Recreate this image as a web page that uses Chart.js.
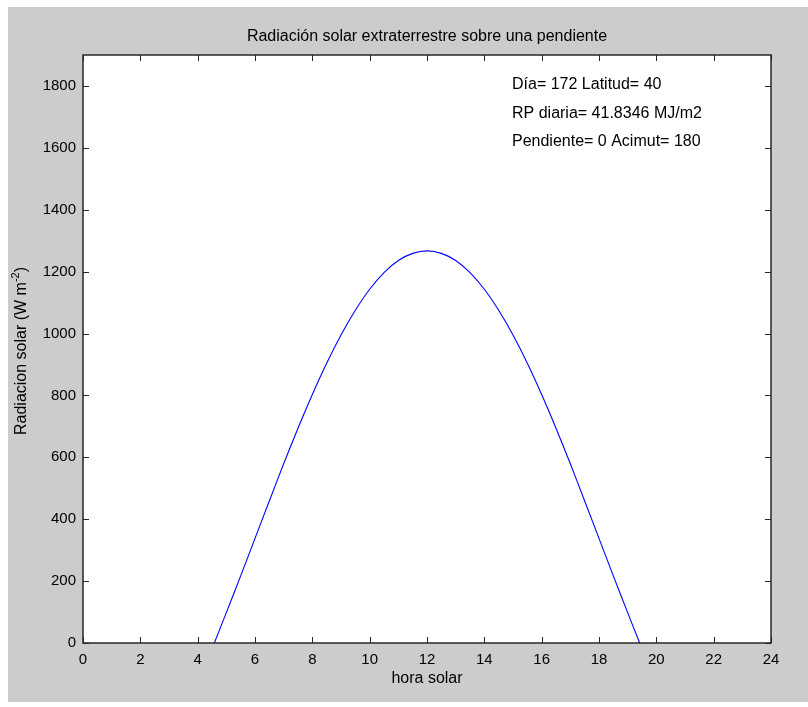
<!DOCTYPE html>
<html>
<head>
<meta charset="utf-8">
<script src="https://cdn.jsdelivr.net/npm/chart.js@4.4.0/dist/chart.umd.min.js"></script>
<style>
  html, body { margin: 0; padding: 0; background: #fff; }
  #wrap { width: 808px; height: 707px; }
</style>
</head>
<body>
<div id="wrap"><canvas id="chart" width="808" height="707"></canvas></div>
<script>
// hora solar (h) and radiation (W m-2)
const hours = [4.58, 5, 5.5, 6, 6.5, 7, 7.5, 8, 8.5, 9, 9.5, 10, 10.5, 11, 11.5, 12,
               12.5, 13, 13.5, 14, 14.5, 15, 15.5, 16, 16.5, 17, 17.5, 18, 18.5, 19, 19.42];
const radiation = [0, 98, 217, 338, 459, 579, 694, 803, 904, 995, 1075, 1143, 1197, 1236, 1259, 1267,
                   1259, 1236, 1197, 1143, 1075, 995, 904, 803, 694, 579, 459, 338, 217, 98, 0];

const xTicks = [0, 2, 4, 6, 8, 10, 12, 14, 16, 18, 20, 22, 24];
const yTicks = [0, 200, 400, 600, 800, 1000, 1200, 1400, 1600, 1800];

const titleText = "Radiación solar extraterrestre sobre una pendiente";
const xLabel = "hora solar";
const notes = ["Día= 172 Latitud= 40", "RP diaria= 41.8346 MJ/m2", "Pendiente= 0 Acimut= 180"];
const notesX = 15;
const notesY = [1805, 1712, 1620];

const FONT = '"Liberation Sans", Arial, sans-serif';

const matlabLook = {
    id: "matlabLook",
    beforeDraw(chart) {
        const ctx = chart.ctx;
        ctx.save();
        ctx.fillStyle = "#fff";
        ctx.fillRect(0, 0, chart.width, chart.height);
        ctx.fillStyle = "#cccccc";
        ctx.fillRect(8, 7, chart.width - 8, 695);
        const a = chart.chartArea;
        ctx.fillStyle = "#fff";
        ctx.fillRect(a.left, a.top, a.right - a.left, a.bottom - a.top);
        ctx.restore();
    },
    afterDraw(chart) {
        const ctx = chart.ctx;
        const a = chart.chartArea;
        const xs = chart.scales.x, ys = chart.scales.y;
        ctx.save();
        // box
        ctx.strokeStyle = "#262626";
        ctx.lineWidth = 1.5;
        ctx.strokeRect(a.left, a.top, a.right - a.left, a.bottom - a.top);
        // inward ticks
        ctx.lineWidth = 1;
        ctx.beginPath();
        xTicks.forEach(v => {
            const px = Math.round(xs.getPixelForValue(v)) + 0.5;
            ctx.moveTo(px, a.bottom); ctx.lineTo(px, a.bottom - 6);
            ctx.moveTo(px, a.top); ctx.lineTo(px, a.top + 6);
        });
        yTicks.forEach(v => {
            const py = Math.round(ys.getPixelForValue(v)) + 0.5;
            ctx.moveTo(a.left, py); ctx.lineTo(a.left + 6, py);
            ctx.moveTo(a.right, py); ctx.lineTo(a.right - 6, py);
        });
        ctx.stroke();

        ctx.fillStyle = "#000";
        ctx.font = "16px " + FONT;
        ctx.textAlign = "center";
        ctx.textBaseline = "middle";
        ctx.fillText(titleText, (a.left + a.right) / 2, 37);
        ctx.fillText(xLabel, (a.left + a.right) / 2, 679);

        // y label with superscript
        ctx.save();
        ctx.translate(22, 351);
        ctx.rotate(-Math.PI / 2);
        const p1 = "Radiacion solar (W m", sup = "-2", p3 = ")";
        ctx.font = "16px " + FONT;
        const w1 = ctx.measureText(p1).width, w3 = ctx.measureText(p3).width;
        ctx.font = "11px " + FONT;
        const w2 = ctx.measureText(sup).width;
        let x0 = -(w1 + w2 + w3) / 2;
        ctx.textAlign = "left";
        ctx.font = "16px " + FONT;
        ctx.fillText(p1, x0, 0);
        ctx.font = "11px " + FONT;
        ctx.fillText(sup, x0 + w1, -6);
        ctx.font = "16px " + FONT;
        ctx.fillText(p3, x0 + w1 + w2, 0);
        ctx.restore();

        // annotations
        ctx.textAlign = "left";
        notes.forEach((t, i) => {
            ctx.fillText(t, xs.getPixelForValue(notesX) - 1, ys.getPixelForValue(notesY[i]));
        });
        ctx.restore();
    }
};

new Chart(document.getElementById("chart"), {
    type: "line",
    data: {
        datasets: [{
            data: hours.map((h, i) => ({ x: h, y: radiation[i] })),
            borderColor: "#0000ff",
            borderWidth: 1.1,
            pointRadius: 0,
            tension: 0.3,
            fill: false
        }]
    },
    options: {
        responsive: false,
        animation: false,
        layout: { padding: { top: 55, right: 37, left: 0, bottom: 0 } },
        plugins: { legend: { display: false }, title: { display: false }, tooltip: { enabled: false } },
        scales: {
            x: {
                type: "linear",
                min: 0, max: 24,
                afterFit: s => { s.height = 64; },
                afterBuildTicks: s => { s.ticks = xTicks.map(v => ({ value: v })); },
                grid: { display: false, drawTicks: false },
                border: { display: false },
                ticks: { color: "#000", font: { family: FONT, size: 15 }, padding: 8, maxRotation: 0, autoSkip: false,
                         callback: v => String(v) }
            },
            y: {
                min: 0, max: 1900,
                afterFit: s => { s.width = 83; },
                afterBuildTicks: s => { s.ticks = yTicks.map(v => ({ value: v })); },
                grid: { display: false, drawTicks: false },
                border: { display: false },
                ticks: { color: "#000", font: { family: FONT, size: 15 }, padding: 7, autoSkip: false,
                         callback: v => String(v) }
            }
        }
    },
    plugins: [matlabLook]
});
</script>
</body>
</html>
